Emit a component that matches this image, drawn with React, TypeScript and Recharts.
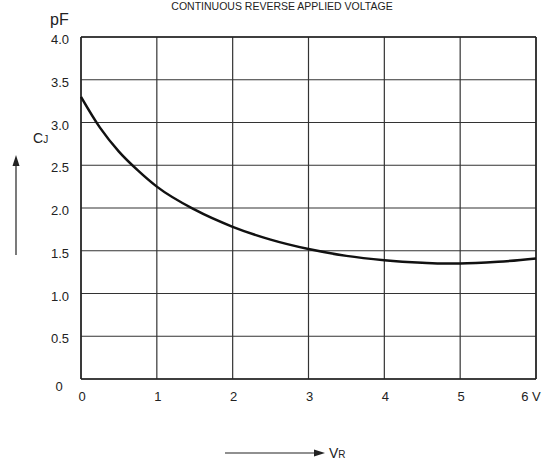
import React from 'react';
import { LineChart, Line, XAxis, YAxis, CartesianGrid, ReferenceLine } from 'recharts';

// reverse voltage (V) and junction capacitance (pF)
const voltage = [0, 0.25, 0.5, 0.75, 1, 1.5, 2, 2.5, 3, 3.5, 4, 4.5, 4.8, 5, 5.5, 6];
const capacitance = [3.3, 2.94, 2.66, 2.44, 2.25, 1.98, 1.78, 1.63, 1.52, 1.44, 1.39, 1.36, 1.35, 1.35, 1.37, 1.41];

const xTicks = [0, 1, 2, 3, 4, 5, 6];
const yTicks = [0, 0.5, 1, 1.5, 2, 2.5, 3, 3.5, 4];

const data = voltage.map((v, i) => ({ v, c: capacitance[i] }));

const FONT = '"Liberation Sans", Arial, sans-serif';

const YTick = (props: any) => {
  const { y, payload } = props;
  const val = payload.value;
  if (val === 0) {
    return (
      <text x={59} y={y + 12} textAnchor="middle" fontSize={13} fill="#222" fontFamily={FONT}>
        0
      </text>
    );
  }
  return (
    <text x={69} y={y + 7} textAnchor="end" fontSize={13} fill="#222" fontFamily={FONT}>
      {val.toFixed(1)}
    </text>
  );
};

const XTick = (props: any) => {
  const { x, y, payload } = props;
  const val = payload.value;
  const label = val === 6 ? '6 V' : String(val);
  return (
    <text x={val === 6 ? x - 5 : x + 1} y={y + 14} textAnchor="middle" fontSize={13} fill="#222" fontFamily={FONT}>
      {label}
    </text>
  );
};

export default function App() {
  return (
    <div style={{ position: 'absolute', left: 0, top: 0, width: 542, height: 462, background: '#fff' }}>
      <LineChart
        width={542}
        height={462}
        data={data}
        margin={{ top: 37, right: 6, left: 0, bottom: 53 }}
      >
        <CartesianGrid stroke="#333" strokeWidth={1.2} />
        <XAxis
          dataKey="v"
          type="number"
          domain={[0, 6]}
          ticks={xTicks}
          axisLine={false}
          tickLine={false}
          height={30}
          tick={<XTick />}
        />
        <YAxis
          type="number"
          domain={[0, 4]}
          ticks={yTicks}
          axisLine={false}
          tickLine={false}
          width={81}
          tick={<YTick />}
        />
        <ReferenceLine y={0} stroke="#222" strokeWidth={1.5} />
        <ReferenceLine y={4} stroke="#222" strokeWidth={1.5} />
        <ReferenceLine x={0} stroke="#222" strokeWidth={1.5} />
        <ReferenceLine x={6} stroke="#222" strokeWidth={1.5} />
        <Line
          type="monotone"
          dataKey="c"
          stroke="#111"
          strokeWidth={2.5}
          dot={false}
          isAnimationActive={false}
        />
      </LineChart>
      <svg
        width={542}
        height={462}
        style={{ position: 'absolute', left: 0, top: 0, pointerEvents: 'none' }}
        fontFamily={FONT}
      >
        <text x={282} y={10} textAnchor="middle" fontSize={10.5} fill="#222">
          CONTINUOUS REVERSE APPLIED VOLTAGE
        </text>
        <text x={50} y={25} fontSize={16} fill="#222">pF</text>
        <text x={33} y={143} fontSize={14} fill="#222">
          C<tspan fontSize={10}>J</tspan>
        </text>
        <line x1={16} y1={255} x2={16} y2={164} stroke="#222" strokeWidth={1.2} />
        <polygon points="16,155 12.5,166 19.5,166" fill="#222" />
        <line x1={225} y1={453} x2={316} y2={453} stroke="#222" strokeWidth={1.2} />
        <polygon points="325,453 314,449.5 314,456.5" fill="#222" />
        <text x={329} y={458} fontSize={14} fill="#222">
          V<tspan fontSize={10}>R</tspan>
        </text>
      </svg>
    </div>
  );
}
